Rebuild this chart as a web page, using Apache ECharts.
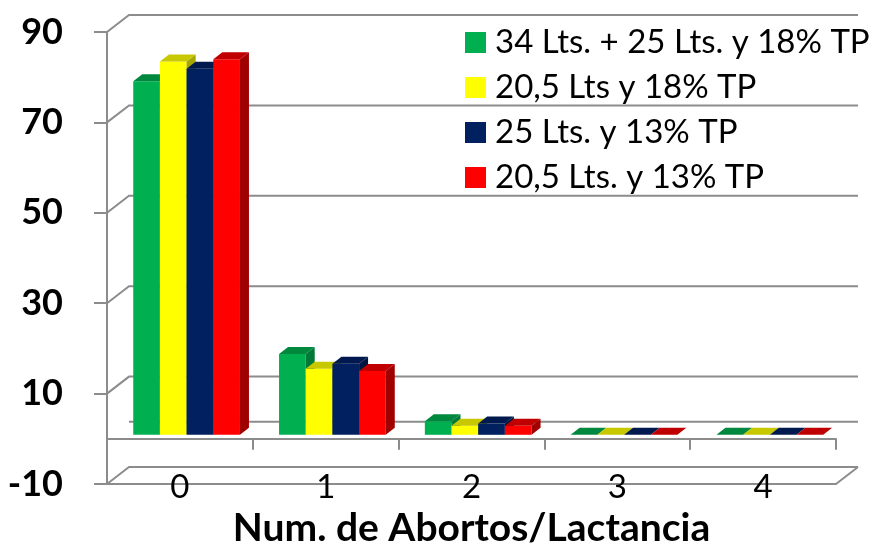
<!DOCTYPE html>
<html>
<head>
<meta charset="utf-8">
<script src="https://cdn.jsdelivr.net/npm/echarts@6/dist/echarts.min.js"></script>
<style>
  html, body { margin: 0; padding: 0; background: #fff; }
  #main { width: 876px; height: 553px; }
</style>
</head>
<body>
<div id="main"></div>
<script>
// datos
var categories = ['0', '1', '2', '3', '4'];
var seriesNames = ['34 Lts. + 25 Lts. y 18% TP', '20,5 Lts y 18% TP', '25 Lts. y 13% TP', '20,5 Lts. y 13% TP'];
var verde34 = [78.2, 17.9, 3.0, 0, 0];
var amarillo205 = [82.6, 14.6, 2.0, 0, 0];
var azul25 = [81.0, 15.7, 2.5, 0, 0];
var rojo205 = [83.1, 14.1, 2.0, 0, 0];
var yTicks = [-10, 10, 30, 50, 70, 90];
var floorValue = 0;

// estilo 3D
var frontColors = ['#00B050', '#FFFF00', '#002060', '#FF0000'];
var topColors = ['#00883E', '#C8C800', '#001A4F', '#C00000'];
var sideColors = ['#007A36', '#A6A600', '#00143D', '#A00000'];
var WALL = [22, -17];      // profundidad de la pared
var BAR_DEPTH = [9, -7];   // profundidad de cada barra
var BAR_SHIFT = [6.7, -4];
var BAR_FRAC = 0.183;
var gridColor = '#8C8C8C';
var fontName = 'Lato';

function barRender(sIdx) {
    return function (params, api) {
        var cat = api.value(0), val = api.value(1);
        var band = api.size([1, 0])[0];
        var w = band * BAR_FRAC;
        var top = api.coord([cat, val]);
        var bot = api.coord([cat, 0]);
        var x0 = top[0] - 2 * w + sIdx * w + BAR_SHIFT[0];
        var yT = top[1] + BAR_SHIFT[1], yB = bot[1] + BAR_SHIFT[1];
        var dx = BAR_DEPTH[0], dy = BAR_DEPTH[1];
        var kids = [];
        if (yB - yT > 0.5) {
            kids.push({ type: 'rect', shape: { x: x0, y: yT, width: w, height: yB - yT }, style: { fill: frontColors[sIdx] } });
            kids.push({ type: 'polygon', shape: { points: [[x0 + w, yT], [x0 + w + dx, yT + dy], [x0 + w + dx, yB + dy], [x0 + w, yB]] }, style: { fill: sideColors[sIdx] } });
        }
        kids.push({ type: 'polygon', shape: { points: [[x0, yT], [x0 + w, yT], [x0 + w + dx, yT + dy], [x0 + dx, yT + dy]] }, style: { fill: topColors[sIdx] } });
        return { type: 'group', children: kids };
    };
}

function wallRender(params, api) {
    var v = api.value(1);
    var band = api.size([1, 0])[0];
    var p = api.coord([0, v]);
    var xL = p[0] - band / 2;
    var xR = api.coord([categories.length - 1, v])[0] + band / 2;
    var y = p[1];
    var st = { stroke: gridColor, lineWidth: 2, fill: null };
    var kids = [];
    if (v === floorValue) {
        kids.push({ type: 'polyline', shape: { points: [[xL + WALL[0], y + WALL[1]], [xR + WALL[0], y + WALL[1]]] }, style: st });
    } else {
        kids.push({ type: 'polyline', shape: { points: [[xL, y], [xL + WALL[0], y + WALL[1]], [xR + WALL[0], y + WALL[1]]] }, style: st });
    }
    if (v === yTicks[0]) {
        kids.push({ type: 'polyline', shape: { points: [[xR, y], [xR + WALL[0], y + WALL[1]]] }, style: st });
    }
    return { type: 'group', children: kids };
}

var allBars = [verde34, amarillo205, azul25, rojo205];
var series = [{
    type: 'custom',
    name: 'paredes',
    renderItem: wallRender,
    data: yTicks.concat([floorValue]).map(function (v) { return [0, v]; }),
    z: 1,
    silent: true
}];
allBars.forEach(function (vals, i) {
    series.push({
        type: 'custom',
        name: seriesNames[i],
        renderItem: barRender(i),
        itemStyle: { color: frontColors[i] },
        data: vals.map(function (v, k) { return [k, v]; }),
        z: 2 + i
    });
});

var chart = echarts.init(document.getElementById('main'));
chart.setOption({
    animation: false,
    textStyle: { fontFamily: fontName },
    grid: { left: 107, right: 40, top: 32, bottom: 65 },
    legend: {
        data: seriesNames,
        orient: 'vertical',
        left: 460,
        top: 21,
        icon: 'rect',
        itemWidth: 21,
        itemHeight: 21,
        itemGap: 12,
        textStyle: { fontFamily: fontName, fontSize: 33, color: '#000', lineHeight: 33, padding: [0, 0, 0, 4] }
    },
    xAxis: [{
        type: 'category',
        data: categories,
        position: 'bottom',
        axisLine: { show: true, onZero: false, lineStyle: { color: gridColor, width: 2 } },
        axisTick: { show: false },
        axisLabel: { fontSize: 33, color: '#000', fontFamily: fontName, margin: 3, verticalAlign: 'middle' },
        name: 'Num. de Abortos/Lactancia',
        nameLocation: 'middle',
        nameGap: 25,
        nameTextStyle: { fontSize: 39, fontWeight: 'bold', color: '#000', fontFamily: fontName, verticalAlign: 'top' }
    }, {
        type: 'category',
        data: categories,
        position: 'bottom',
        axisLine: { show: true, onZero: true, lineStyle: { color: gridColor, width: 2 } },
        axisTick: { show: true, length: 11, lineStyle: { color: gridColor, width: 2 } },
        axisLabel: { show: false }
    }],
    yAxis: {
        type: 'value',
        min: -10,
        max: 90,
        interval: 20,
        axisLine: { show: true, lineStyle: { color: gridColor, width: 2 } },
        axisTick: { show: true, length: 13, lineStyle: { color: gridColor, width: 2 } },
        splitLine: { show: false },
        axisLabel: { fontSize: 36, fontWeight: 'bold', color: '#000', fontFamily: fontName, margin: 44 }
    },
    series: series
});
</script>
</body>
</html>
